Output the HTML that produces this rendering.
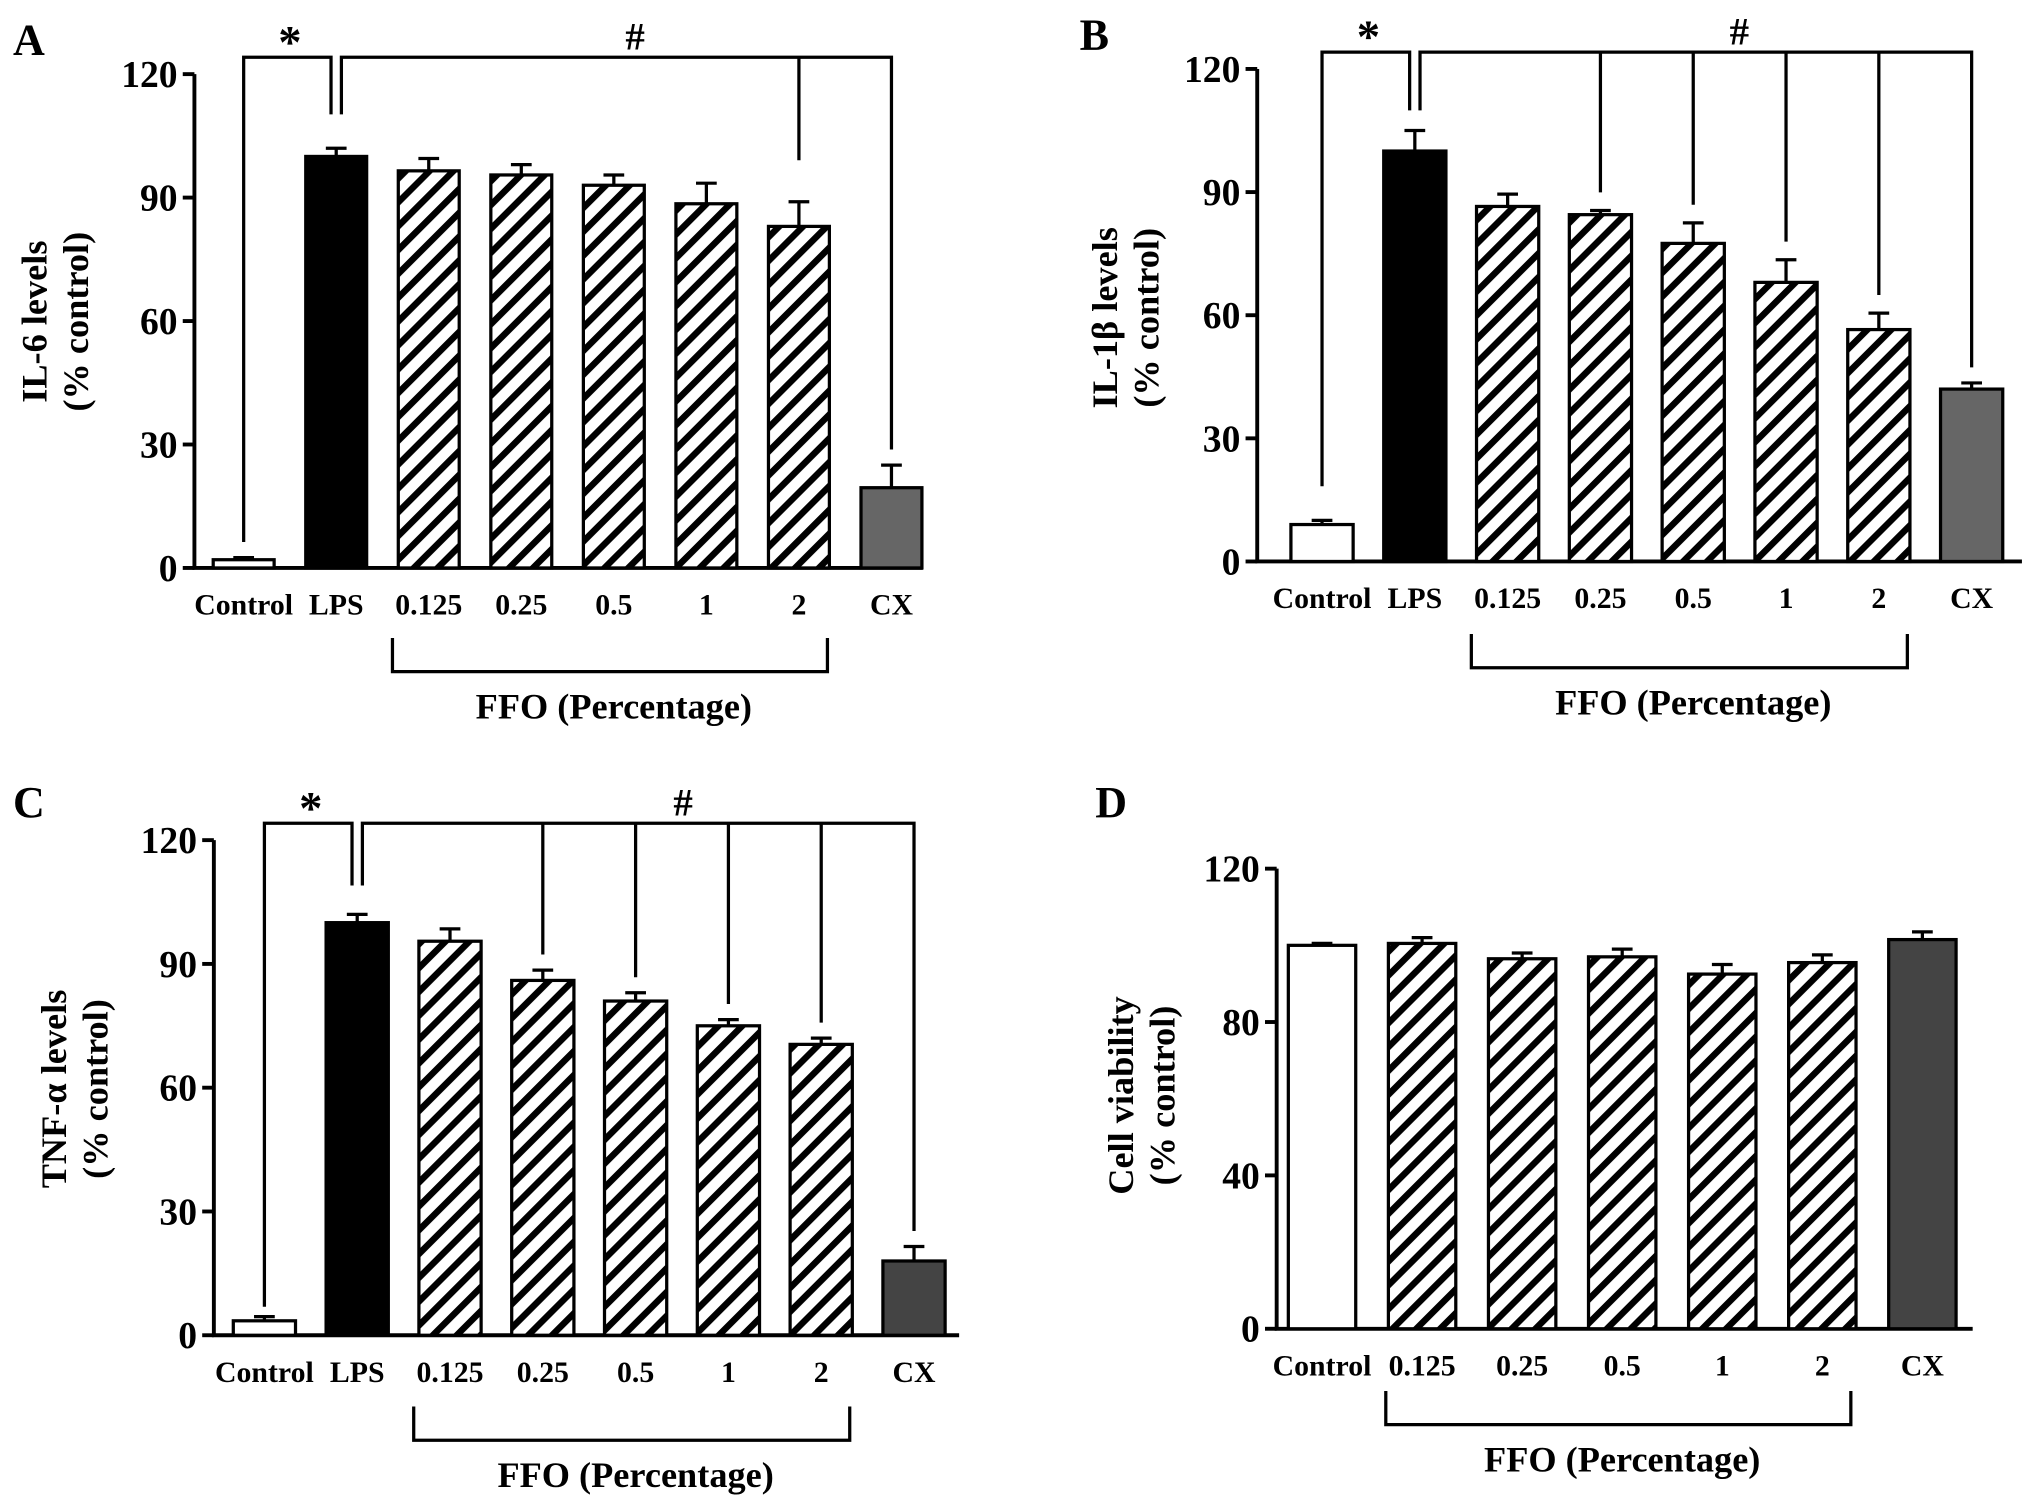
<!DOCTYPE html>
<html><head><meta charset="utf-8">
<style>html,body{margin:0;padding:0;background:#fff;}svg{display:block;}
text{font-family:"Liberation Serif",serif;font-weight:bold;fill:#000;}</style></head>
<body>
<svg id="fig" width="2031" height="1504" viewBox="0 0 1567 1160" xmlns="http://www.w3.org/2000/svg">
<defs>
<pattern id="hatch" patternUnits="userSpaceOnUse" width="13" height="13" patternTransform="rotate(45)">
<rect width="13" height="13" fill="#fff"/><rect x="0" y="0" width="5" height="13" fill="#000"/>
</pattern>
</defs>
</svg>
<script>
// Panel data
const catsA = ["Control","LPS","0.125","0.25","0.5","1","2","CX"];
const valsA = [2,100,96.5,95.5,93,88.5,83,19.5];
const errsA = [0.5,2,3,2.5,2.5,5,6,5.5];
const catsB = ["Control","LPS","0.125","0.25","0.5","1","2","CX"];
const valsB = [9,100,86.5,84.5,77.5,68,56.5,42];
const errsB = [1,5,3,1,5,5.5,4,1.5];
const catsC = ["Control","LPS","0.125","0.25","0.5","1","2","CX"];
const valsC = [3.5,100,95.5,86,81,75,70.5,18];
const errsC = [1,2,3,2.5,2,1.5,1.5,3.5];
const catsD = ["Control","0.125","0.25","0.5","1","2","CX"];
const valsD = [100,100.5,96.5,97,92.5,95.5,101.5];
const errsD = [0.5,1.5,1.5,2,2.5,2,2];
const ticksABC = [0,30,60,90,120];
const ticksD = [0,40,80,120];

const svg = document.getElementById('fig');
const NS = "http://www.w3.org/2000/svg";
function mk(tag, attrs, parent){const e=document.createElementNS(NS,tag);for(const k in attrs)e.setAttribute(k,attrs[k]);(parent||svg).appendChild(e);return e;}
function txt(x,y,s,size,parent,anchor,rot){const t=mk('text',{x:x,y:y,'font-size':size,'text-anchor':anchor||'middle'},parent);if(rot)t.setAttribute('transform',`rotate(-90 ${x} ${y})`);t.textContent=s;return t;}

function panel(o){
  const g=mk('g',{});
  
  
  const y=v=>o.y0-(v/o.ymax)*(o.y0-o.ytop);
  const x=i=>o.x0c+i*o.step;
  const L=txt(o.letterX,o.letterY,o.letter,34,g,'start');
  
  
  const ax=mk('path',{d:`M${o.ax} ${o.ytop} V${o.y0} H${o.axEnd}`,stroke:'#000','stroke-width':3,fill:'none'},g);
  
  
  o.ticks.forEach(t=>{
    mk('line',{x1:o.ax-9,x2:o.ax,y1:y(t),y2:y(t),stroke:'#000','stroke-width':3},g);
    const tl=txt(o.ax-13,y(t)+10,String(t),29,g,'end');
    
    
  });
  const yl1=txt(o.ylx,o.ylc,o.yl1,28,g,'middle',true);
  
  
  const yl2=txt(o.ylx+32,o.ylc,'(% control)',28,g,'middle',true);
  
  
  o.vals.forEach((v,i)=>{
    const c=o.cats[i];
    let fill='url(#hatch)';
    if(c==='Control')fill='#fff';else if(c==='LPS')fill='#000';else if(c==='CX')fill=o.cxColor;
    const b=mk('rect',{x:x(i)-o.bw/2,y:y(v),width:o.bw,height:o.y0-y(v),fill:fill,stroke:'#000','stroke-width':2.5},g);
    
    
    const e=mk('path',{d:`M${x(i)} ${y(v)} V${y(v+o.errs[i])} M${x(i)-8} ${y(v+o.errs[i])} H${x(i)+8}`,stroke:'#000','stroke-width':2.5,fill:'none'},g);
    
    
    const cl=txt(x(i),o.catY,c,23,g);
    
    
  });
  const i1=o.cats.indexOf('0.125'), i2=o.cats.indexOf('2');
  const fb=mk('path',{d:`M${x(i1)-28} ${o.fbY} V${o.fbY+26} H${x(i2)+22} V${o.fbY}`,stroke:'#000','stroke-width':2.5,fill:'none'},g);
  
  
  const ft=txt((x(i1)+x(i2))/2,o.fbY+62,'FFO (Percentage)',28,g);
  
  
  if(o.sig){
    const s=o.sig, iL=o.cats.indexOf('LPS'), iC=o.cats.length-1;
    let d=`M${x(0)} ${s.ctrlEnd} V${s.top} H${x(iL)-4} V${s.lpsEnd} M${x(iL)+4} ${s.lpsEnd} V${s.top} H${x(iC)} V${y(o.vals[iC]+o.errs[iC])-12}`;
    s.drops.forEach(ci=>{const i=o.cats.indexOf(ci);d+=` M${x(i)} ${s.top} V${y(o.vals[i]+o.errs[i])-s.gap}`;});
    const sb=mk('path',{d:d,stroke:'#000','stroke-width':2.5,fill:'none'},g);
    
    
    const st=txt((x(0)+x(iL))/2,s.top-0,'*',36,g);
    
    
    const hs=txt(s.hashX,s.top-6,'#',30,g);
    
    
  }
}

panel({name:'panel-a',letter:'A',letterX:10,letterY:42,cats:catsA,vals:valsA,errs:errsA,ticks:ticksABC,ymax:120,
  ax:150,axEnd:712,ytop:57,y0:438,x0c:188,step:71.4,bw:47,cxColor:'#666',catY:474,fbY:492,
  ylx:36,ylc:248,yl1:'IL-6 levels',
  sig:{top:44,ctrlEnd:418,lpsEnd:88,drops:['2'],gap:32,hashX:490}});
panel({name:'panel-b',letter:'B',letterX:833,letterY:38,cats:catsB,vals:valsB,errs:errsB,ticks:ticksABC,ymax:120,
  ax:970,axEnd:1560,ytop:53,y0:433,x0c:1020,step:71.6,bw:48,cxColor:'#666',catY:469,fbY:489,
  ylx:862,ylc:245,yl1:'IL-1β levels',
  sig:{top:40,ctrlEnd:375,lpsEnd:85,drops:['0.25','0.5','1','2'],gap:14,hashX:1342}});
panel({name:'panel-c',letter:'C',letterX:10,letterY:630,cats:catsC,vals:valsC,errs:errsC,ticks:ticksABC,ymax:120,
  ax:165,axEnd:740,ytop:648,y0:1030,x0c:204,step:71.6,bw:48,cxColor:'#444',catY:1066,fbY:1085,
  ylx:51,ylc:840,yl1:'TNF-α levels',
  sig:{top:635,ctrlEnd:1008,lpsEnd:683,drops:['0.25','0.5','1','2'],gap:12,hashX:527}});
panel({name:'panel-d',letter:'D',letterX:845,letterY:630,cats:catsD,vals:valsD,errs:errsD,ticks:ticksD,ymax:120,
  ax:985,axEnd:1522,ytop:670,y0:1025,x0c:1020,step:77.2,bw:52,cxColor:'#444',catY:1061,fbY:1073,
  ylx:874,ylc:845,yl1:'Cell viability',sig:null});
</script>
</body></html>
